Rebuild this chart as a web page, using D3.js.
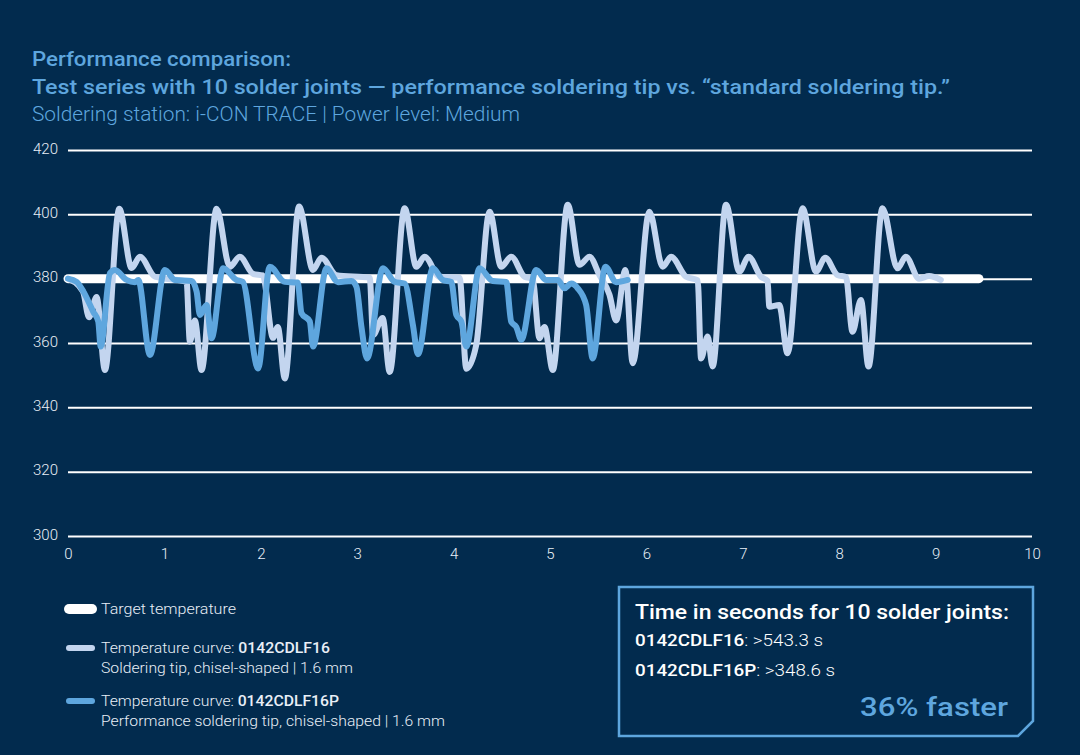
<!DOCTYPE html>
<html>
<head>
<meta charset="utf-8">
<script src="https://cdn.jsdelivr.net/npm/d3@7"></script>
<style>
  html, body { margin: 0; padding: 0; background: #022b4e; }
  svg { display: block; }
  text { font-family: Roboto, "Noto Sans", sans-serif; }
</style>
</head>
<body>
<div id="viz"></div>
<script>
// time in minutes, temperature in °C
const xTicks = [0, 1, 2, 3, 4, 5, 6, 7, 8, 9, 10];
const yTicks = [300, 320, 340, 360, 380, 400, 420];

const targetTemp = [[0, 380], [9.45, 380]];

// 0142CDLF16 (standard tip)
const standardTime = [0, 0.155, 0.218, 0.297, 0.383, 0.532, 0.66, 0.746, 0.902, 1.23, 1.264, 1.316, 1.385,
  1.541, 1.679, 1.782, 1.92, 2.021, 2.127, 2.176, 2.249, 2.397, 2.542, 2.629, 2.785, 3.13, 3.164, 3.264,
  3.337, 3.492, 3.614, 3.699, 3.855, 4.062, 4.132, 4.235, 4.373, 4.494, 4.598, 4.736, 4.819, 4.891, 4.943,
  5.029, 5.184, 5.306, 5.409, 5.513, 5.617, 5.686, 5.782, 5.858, 6.031, 6.169, 6.256, 6.411, 6.532, 6.567,
  6.635, 6.687, 6.826, 6.964, 7.06, 7.189, 7.257, 7.275, 7.378, 7.464, 7.62, 7.759, 7.855, 7.982, 8.07,
  8.138, 8.225, 8.304, 8.449, 8.604, 8.691, 8.829, 8.933, 9.054];
const standardTemp = [380, 376, 368, 374.3, 351.6, 401.7, 383.3, 386.8, 380.6, 379, 360.4, 367, 351.6,
  401.7, 383.7, 386.8, 381.5, 381, 361.6, 365, 349, 402.4, 382.7, 386.5, 381.1, 380.3, 362.5, 367.8,
  351, 401.9, 383.7, 386.8, 380.6, 380.3, 352, 359.4, 400.8, 383.7, 386.8, 380.6, 380, 361.5, 365,
  351.6, 403, 384.3, 386.8, 381.1, 375, 367, 382.7, 353.7, 400.8, 383.7, 386.8, 380.6, 379.5, 355.2,
  362, 352.7, 403, 382.2, 386.8, 380.6, 379.3, 371.3, 371.8, 356.8, 401.9, 382.2, 386.5, 381.1, 380.5,
  363.5, 373.4, 352.7, 401.9, 383.2, 386.8, 380, 380.8, 379.6];

// 0142CDLF16P (performance tip)
const perfTime = [0, 0.09, 0.159, 0.262, 0.314, 0.339, 0.435, 0.487, 0.608, 0.694, 0.729, 0.85, 1.005,
  1.109, 1.282, 1.334, 1.368, 1.437, 1.489, 1.609, 1.748, 1.813, 1.972, 2.093, 2.249, 2.383, 2.422, 2.508,
  2.542, 2.681, 2.801, 2.94, 2.992, 3.044, 3.102, 3.267, 3.389, 3.492, 3.578, 3.63, 3.785, 3.889, 3.976,
  4.028, 4.08, 4.132, 4.269, 4.407, 4.546, 4.598, 4.65, 4.702, 4.857, 4.961, 5.081, 5.15, 5.22, 5.288,
  5.375, 5.443, 5.575, 5.686, 5.806];
const perfTemp = [380, 379, 376, 369.7, 366.7, 358.9, 381.7, 382.7, 379.6, 378.9, 379.6, 356.3, 382.7,
  379.6, 379.3, 376, 368.7, 371.8, 361.5, 383.2, 379.6, 379, 352.1, 383.7, 379, 378.8, 369.3, 366.7,
  358.9, 383.2, 378.9, 379.3, 377.5, 365, 355.2, 383.2, 379, 378.5, 365.6, 356.5, 383.2, 379.6, 379,
  368.7, 366.7, 358.9, 383.2, 379.3, 379, 366.6, 365, 361, 382.7, 379.6, 379.6, 377, 378.5, 377,
  371.8, 355.2, 383.7, 378.9, 379.6];

const bg = "#022b4e";
const lightBlue = "#5ea6de";
const standardColor = "#c3d5ef";
const textColor = "#e9eff7";

const svg = d3.select("#viz")
  .append("svg")
  .attr("width", 1080)
  .attr("height", 755);

svg.append("rect").attr("width", 1080).attr("height", 755).attr("fill", bg);

// squeeze/stretch a text to the width it has in the original
function fit(sel, w) {
  sel.attr("textLength", w).attr("lengthAdjust", "spacingAndGlyphs");
  return sel;
}

// title block
fit(svg.append("text").attr("x", 32).attr("y", 66)
  .attr("fill", lightBlue).attr("font-size", 20).attr("font-weight", 500)
  .text("Performance comparison:"), 259);
fit(svg.append("text").attr("x", 32).attr("y", 94)
  .attr("fill", lightBlue).attr("font-size", 20).attr("font-weight", 500)
  .text("Test series with 10 solder joints — performance soldering tip vs. “standard soldering tip.”"), 918);
fit(svg.append("text").attr("x", 32).attr("y", 121)
  .attr("fill", lightBlue).attr("font-size", 20).attr("font-weight", 300)
  .text("Soldering station: i-CON TRACE | Power level: Medium"), 488);

// chart area
const plotLeft = 68, plotRight = 1032, plotTop = 150, plotBottom = 536;
const x = d3.scaleLinear().domain([0, 10]).range([plotLeft, plotRight]);
const y = d3.scaleLinear().domain([300, 420]).range([plotBottom, plotTop]);

const yAxis = svg.append("g")
  .attr("transform", `translate(${plotLeft},0)`)
  .call(d3.axisLeft(y).tickValues(yTicks).tickSize(-(plotRight - plotLeft)).tickPadding(10));
yAxis.select(".domain").remove();
yAxis.selectAll(".tick line").attr("stroke", "#ffffff").attr("stroke-width", 2);
yAxis.selectAll(".tick text").attr("fill", textColor).attr("font-size", 15).attr("font-family", "Roboto")
  .attr("font-weight", 300).attr("dy", "0.2em");

const xAxis = svg.append("g")
  .attr("transform", `translate(0,${plotBottom})`)
  .call(d3.axisBottom(x).tickValues(xTicks).tickSize(0).tickPadding(12));
xAxis.select(".domain").remove();
xAxis.selectAll(".tick text").attr("fill", textColor).attr("font-size", 15).attr("font-family", "Roboto")
  .attr("font-weight", 300);

const line = d3.line()
  .x((d) => x(d[0]))
  .y((d) => y(d[1]))
  .curve(d3.curveMonotoneX);

const standard = standardTime.map((t, i) => [t, standardTemp[i]]);
const perf = perfTime.map((t, i) => [t, perfTemp[i]]);

svg.append("path")
  .datum(targetTemp)
  .attr("fill", "none")
  .attr("stroke", "#ffffff")
  .attr("stroke-width", 9)
  .attr("stroke-linecap", "round")
  .attr("d", line);

svg.append("path")
  .datum(standard)
  .attr("fill", "none")
  .attr("stroke", standardColor)
  .attr("stroke-width", 6)
  .attr("stroke-linecap", "round")
  .attr("stroke-linejoin", "round")
  .attr("d", line);

svg.append("path")
  .datum(perf)
  .attr("fill", "none")
  .attr("stroke", lightBlue)
  .attr("stroke-width", 6)
  .attr("stroke-linecap", "round")
  .attr("stroke-linejoin", "round")
  .attr("d", line);

// legend
const legend = [
  { color: "#ffffff", width: 10, y: 609, lines: [["Target temperature", ""]], widths: [135] },
  { color: standardColor, width: 6, y: 648,
    lines: [["Temperature curve: ", "0142CDLF16"], ["Soldering tip, chisel-shaped | 1.6 mm", ""]], widths: [229, 252] },
  { color: lightBlue, width: 6, y: 701,
    lines: [["Temperature curve: ", "0142CDLF16P"], ["Performance soldering tip, chisel-shaped | 1.6 mm", ""]], widths: [238, 344] }
];
legend.forEach((item) => {
  svg.append("line")
    .attr("x1", 69).attr("x2", 92)
    .attr("y1", item.y).attr("y2", item.y)
    .attr("stroke", item.color).attr("stroke-width", item.width).attr("stroke-linecap", "round");
  item.lines.forEach((ln, i) => {
    const t = svg.append("text")
      .attr("x", 101).attr("y", item.y + 5 + i * 20)
      .attr("fill", textColor).attr("font-size", 15).attr("font-weight", 300);
    t.append("tspan").text(ln[0]);
    if (ln[1]) t.append("tspan").attr("font-weight", 500).text(ln[1]);
    fit(t, item.widths[i]);
  });
});

// result box with cut corner
const bx0 = 619, bx1 = 1033, by0 = 587, by1 = 736, cut = 15;
svg.append("path")
  .attr("d", `M${bx0},${by0}H${bx1}V${by1 - cut}L${bx1 - cut},${by1}H${bx0}Z`)
  .attr("fill", "none")
  .attr("stroke", lightBlue)
  .attr("stroke-width", 2.5);

fit(svg.append("text").attr("x", 635).attr("y", 619)
  .attr("fill", "#ffffff").attr("font-size", 20).attr("font-weight", 500)
  .text("Time in seconds for 10 solder joints:"), 374);

const results = [["0142CDLF16", ": >543.3 s", 188], ["0142CDLF16P", ": >348.6 s", 200]];
results.forEach((r, i) => {
  const t = svg.append("text").attr("x", 635).attr("y", 646 + i * 30)
    .attr("fill", "#ffffff").attr("font-size", 17);
  t.append("tspan").attr("font-weight", 500).text(r[0]);
  t.append("tspan").attr("font-weight", 300).text(r[1]);
  fit(t, r[2]);
});

fit(svg.append("text").attr("x", 1008).attr("y", 716)
  .attr("text-anchor", "end")
  .attr("fill", lightBlue).attr("font-size", 26).attr("font-weight", 500)
  .text("36% faster"), 148);
</script>
</body>
</html>
